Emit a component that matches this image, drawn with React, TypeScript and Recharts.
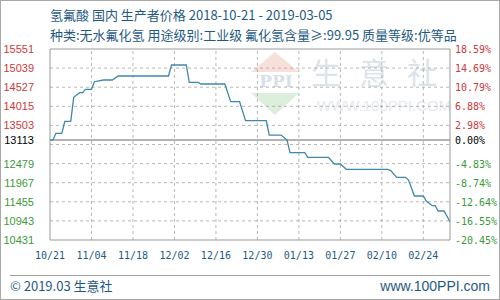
import React from "react";
import {
  Line,
  LineChart,
  ReferenceLine,
  XAxis,
  YAxis,
} from "recharts";

// daily producer price of hydrofluoric acid (change points only)
const dates = [
  "2018-10-21", "2018-10-22", "2018-10-23", "2018-10-25", "2018-10-26",
  "2018-10-28", "2018-10-29", "2018-10-31", "2018-11-01", "2018-11-02",
  "2018-11-04", "2018-11-05", "2018-11-08", "2018-11-11", "2018-11-13",
  "2018-11-30", "2018-12-01", "2018-12-06", "2018-12-07", "2018-12-10",
  "2018-12-11", "2018-12-19", "2018-12-21", "2018-12-24", "2018-12-26",
  "2019-01-02", "2019-01-03", "2019-01-07", "2019-01-09", "2019-01-10",
  "2019-01-15", "2019-01-16", "2019-01-23", "2019-01-25", "2019-01-27",
  "2019-01-29", "2019-02-12", "2019-02-13", "2019-02-15", "2019-02-18",
  "2019-02-19", "2019-02-21", "2019-02-24", "2019-02-25", "2019-02-27",
  "2019-02-28", "2019-03-01", "2019-03-03", "2019-03-05",
];
const prices = [
  13113, 13113, 13290, 13290, 13613,
  13613, 14256, 14379, 14379, 14470,
  14470, 14674, 14720, 14720, 14827,
  14827, 15122, 15122, 14658, 14658,
  14613, 14613, 14138, 14138, 13629,
  13629, 13245, 13245, 13110, 12771,
  12771, 12647, 12647, 12468, 12468,
  12326, 12326, 12290, 12111, 12111,
  12039, 11610, 11610, 11476, 11350,
  11350, 11208, 11208, 10921,
];

const basePrice = 13113;
const leftTicks = [15551, 15039, 14527, 14015, 13503, 13113, 12479, 11967, 11455, 10943, 10431];
const rightTickLabels = [
  "18.59%", "14.69%", "10.79%", "6.88%", "2.98%", "0.00%",
  "-4.83%", "-8.74%", "-12.64%", "-16.55%", "-20.45%",
];
const gridValues = [15039, 14527, 14015, 13503, 12991, 12479, 11967, 11455, 10943];
const xTickDates = [
  "2018-10-21", "2018-11-04", "2018-11-18", "2018-12-02", "2018-12-16",
  "2018-12-30", "2019-01-13", "2019-01-27", "2019-02-10", "2019-02-24",
];
const startDate = "2018-10-21";
const endDate = "2019-03-05";

const DAY = 86400000;
const dayIndex = (d: string) => Math.round((Date.parse(d) - Date.parse(startDate)) / DAY);

const data = dates.map((d, i) => ({ day: dayIndex(d), price: prices[i] }));
const xTicks = xTickDates.map(dayIndex);

const RED = "#cc3a3a";
const GREEN = "#3a9a3a";
const BLUE_TEXT = "#1f5a85";
const GRID = "#999999";
const FRAME = "#9a9a9a";

const tickColor = (v: number) => (v > basePrice ? RED : v < basePrice ? GREEN : "#000");

const LeftTick = (props: any) => {
  const { x, y, payload } = props;
  return (
    <text x={x} y={y} dy={4} textAnchor="end" fontSize={11}
      fontFamily="Liberation Sans, Arial, sans-serif" fill={tickColor(payload.value)}>
      {payload.value}
    </text>
  );
};

const RightTick = (props: any) => {
  const { x, y, payload } = props;
  const idx = leftTicks.indexOf(payload.value);
  return (
    <text x={x} y={y} dy={4} textAnchor="start" fontSize={10}
      fontFamily="DejaVu Sans Mono, monospace" fill={tickColor(payload.value)}>
      {rightTickLabels[idx]}
    </text>
  );
};

const fmtDay = (v: number) => {
  const d = new Date(Date.parse(startDate) + v * DAY);
  const mm = String(d.getUTCMonth() + 1).padStart(2, "0");
  const dd = String(d.getUTCDate()).padStart(2, "0");
  return `${mm}/${dd}`;
};

function Watermark() {
  return (
    <svg width={500} height={300} style={{ position: "absolute", left: 0, top: 0 }}>
      <polygon points="275,52 251,72 299,72" fill="#f8e0da" />
      <text x={276} y={87} textAnchor="middle" fontSize={17} fontWeight="bold"
        fontFamily="DejaVu Serif, serif" fill="#d8e0ea">PPI</text>
      <polygon points="251,93 299,93 275,115" fill="#dcefdd" />
      <text x={383} y={84} textAnchor="middle" fontSize={30} letterSpacing={18}
        fontFamily="Noto Sans CJK SC, sans-serif" fill="#dde3eb">生意社</text>
      <text x={384} y={111} textAnchor="middle" fontSize={15}
        fontFamily="Liberation Sans, Arial, sans-serif" fill="#e6e9ef">WWW.100PPI.COM</text>
    </svg>
  );
}

export default function App() {
  return (
    <div style={{ position: "absolute", left: 0, top: 0, width: 500, height: 300, background: "#fff", overflow: "hidden" }}>
      <Watermark />
      <div style={{ position: "absolute", left: 0, top: 0 }}>
        <LineChart width={500} height={300} data={data}
          margin={{ top: 49, right: 0, bottom: 30, left: 0 }}>
          <XAxis dataKey="day" type="number" domain={[0, dayIndex(endDate)]} ticks={xTicks}
            tickFormatter={fmtDay} height={30} tickSize={0} tickMargin={12}
            axisLine={{ stroke: FRAME }} tickLine={false}
            tick={{ fontSize: 10, fill: BLUE_TEXT, fontFamily: "DejaVu Sans Mono, monospace" }}
            interval={0} />
          <YAxis yAxisId="left" type="number" domain={[10431, 15551]} ticks={leftTicks}
            width={50} tickSize={0} tickMargin={16} tick={<LeftTick />}
            axisLine={{ stroke: FRAME }} tickLine={false} interval={0} allowDataOverflow />
          <YAxis yAxisId="right" orientation="right" type="number" domain={[10431, 15551]}
            ticks={leftTicks} width={50} tickSize={0} tickMargin={5} tick={<RightTick />}
            axisLine={{ stroke: FRAME }} tickLine={false} interval={0} allowDataOverflow />
          {gridValues.map((v) => (
            <ReferenceLine key={`h${v}`} yAxisId="left" y={v} stroke={GRID}
              strokeOpacity={0.7} strokeDasharray="3 3" />
          ))}
          {xTicks.slice(1).map((v) => (
            <ReferenceLine key={`v${v}`} yAxisId="left" x={v} stroke={GRID}
              strokeOpacity={0.7} strokeDasharray="3 3" />
          ))}
          <ReferenceLine yAxisId="left" y={15551} stroke={FRAME} />
          <ReferenceLine yAxisId="left" y={basePrice} stroke={FRAME} strokeWidth={1.6} />
          <Line yAxisId="left" type="linear" dataKey="price" stroke="#3f88ab" strokeWidth={1.3}
            dot={false} isAnimationActive={false} />
        </LineChart>
      </div>
      <div style={{ position: "absolute", left: 50, top: 6, fontSize: 13, lineHeight: "18px", color: BLUE_TEXT,
        fontFamily: "Noto Sans CJK SC, sans-serif", whiteSpace: "nowrap" }}>
        氢氟酸 国内 生产者价格 2018-10-21 - 2019-03-05
      </div>
      <div style={{ position: "absolute", left: 50, top: 26, fontSize: 13, lineHeight: "18px", color: BLUE_TEXT,
        fontFamily: "Noto Sans CJK SC, sans-serif", whiteSpace: "nowrap" }}>
        种类:无水氟化氢 用途级别:工业级 氟化氢含量≥:99.95 质量等级:优等品
      </div>
      <div style={{ position: "absolute", left: 10, top: 275, width: 480, height: 1, background: "#a0a0a0" }} />
      <div style={{ position: "absolute", left: 10, top: 277, fontSize: 13, lineHeight: "18px", color: BLUE_TEXT,
        fontFamily: "Noto Sans CJK SC, sans-serif", whiteSpace: "nowrap" }}>
        © 2019.03 生意社
      </div>
      <div style={{ position: "absolute", right: 10, top: 277, fontSize: 14, lineHeight: "18px", color: BLUE_TEXT,
        fontFamily: "Liberation Sans, Arial, sans-serif", whiteSpace: "nowrap" }}>
        www.100PPI.com
      </div>
      <div style={{ position: "absolute", left: 0, top: 0, width: 500, height: 300, boxSizing: "border-box",
        border: "1px solid #a8a8a8", pointerEvents: "none" }} />
    </div>
  );
}
